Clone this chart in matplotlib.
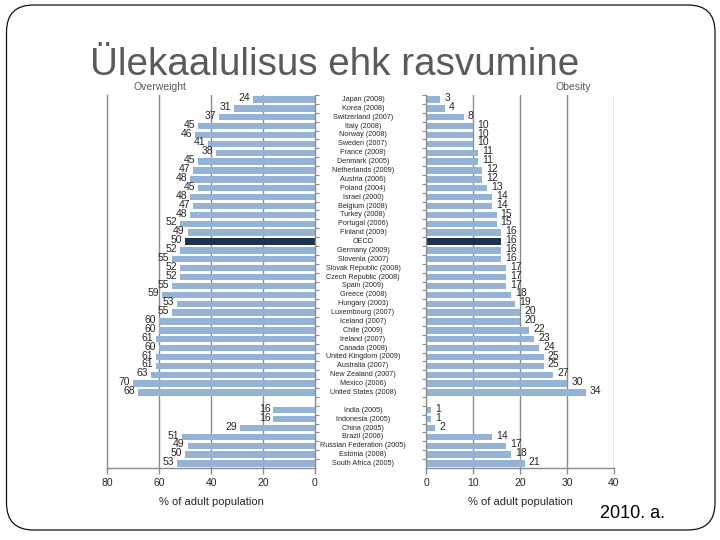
import matplotlib
matplotlib.use("Agg")
import matplotlib.pyplot as plt
from matplotlib.patches import FancyBboxPatch
from matplotlib.transforms import blended_transform_factory

plt.rcParams['font.family'] = ['Liberation Sans', 'DejaVu Sans']

countries = ["Japan (2008)", "Korea (2008)", "Switzerland (2007)", "Italy (2008)", "Norway (2008)",
             "Sweden (2007)", "France (2008)", "Denmark (2005)", "Netherlands (2009)", "Austria (2006)",
             "Poland (2004)", "Israel (2000)", "Belgium (2008)", "Turkey (2008)", "Portugal (2006)",
             "Finland (2009)", "OECD", "Germany (2009)", "Slovenia (2007)", "Slovak Republic (2008)",
             "Czech Republic (2008)", "Spain (2009)", "Greece (2008)", "Hungary (2003)",
             "Luxembourg (2007)", "Iceland (2007)", "Chile (2009)", "Ireland (2007)", "Canada (2008)",
             "United Kingdom (2009)", "Australia (2007)", "New Zealand (2007)", "Mexico (2006)",
             "United States (2008)"]
overweight = [24, 31, 37, 45, 46, 41, 38, 45, 47, 48, 45, 48, 47, 48, 52, 49, 50, 52, 55, 52,
              52, 55, 59, 53, 55, 60, 60, 61, 60, 61, 61, 63, 70, 68]
obesity = [3, 4, 8, 10, 10, 10, 11, 11, 12, 12, 13, 14, 14, 15, 15, 16, 16, 16, 16, 17,
           17, 17, 18, 19, 20, 20, 22, 23, 24, 25, 25, 27, 30, 34]

other_countries = ["India (2005)", "Indonesia (2005)", "China (2005)", "Brazil (2006)",
                   "Russian Federation (2005)", "Estonia (2008)", "South Africa (2005)"]
other_overweight = [16, 16, 29, 51, 49, 50, 53]
other_obesity = [1, 1, 2, 14, 17, 18, 21]

left_ticks = [80, 60, 40, 20, 0]
right_ticks = [0, 10, 20, 30, 40]

names = countries + [""] + other_countries
ow = overweight + [None] + other_overweight
ob = obesity + [None] + other_obesity
pos = list(range(len(names)))

light = "#95b3d7"
dark = "#1c3250"
grid_c = "#8c8c8c"
txt_c = "#262626"

fig = plt.figure(figsize=(7.2, 5.4), dpi=100)

# slide border (inches)
border = FancyBboxPatch((0.065, 0.10), 7.085, 5.25,
                        boxstyle="round,pad=0,rounding_size=0.27",
                        transform=fig.dpi_scale_trans, fill=False, ec="#111111", lw=0.9)
fig.patches.append(border)

fig.text(90 / 720, 1 - 75 / 540, "Ülekaalulisus ehk rasvumine", fontsize=27.8,
         color="#5a5a5a", ha="left", va="baseline")

axL = fig.add_axes([107 / 720, 1 - 468 / 540, 208 / 720, 373 / 540])
axR = fig.add_axes([426 / 720, 1 - 468 / 540, 188 / 720, 373 / 540])

for ax in (axL, axR):
    ax.set_facecolor("none")
    ax.set_ylim(len(names) - 0.5, -0.5)
    ax.spines["top"].set_visible(False)
    for s in ax.spines.values():
        s.set_color(grid_c)
        s.set_linewidth(1.0)
    ax.tick_params(axis="x", colors=grid_c, labelcolor=txt_c, labelsize=7.5, length=4, width=1)
    ax.set_yticks([p + 0.5 for p in pos[:-1]] + [-0.5])
    ax.set_yticklabels([])
    ax.tick_params(axis="y", colors=grid_c, length=3, width=0.8)

# left (overweight)
axL.set_xlim(80, 0)
axL.set_xticks(left_ticks)
axL.yaxis.tick_right()
for t in [60, 40, 20]:
    axL.axvline(t, color=grid_c, lw=1.0, zorder=0)
# right (obesity)
axR.set_xlim(0, 40)
axR.set_xticks(right_ticks)
axR.spines["right"].set_visible(False)
for t in [10, 20, 30, 40]:
    axR.axvline(t, color=grid_c, lw=1.0, zorder=0)

for p, n, a, b in zip(pos, names, ow, ob):
    if a is None:
        continue
    col = dark if n == "OECD" else light
    axL.barh(p, a, height=0.72, color=col, zorder=2)
    axR.barh(p, b, height=0.72, color=col, zorder=2)
    axL.annotate(str(a), (a, p), xytext=(-2, 1), textcoords="offset points",
                 ha="right", va="center", fontsize=7.5, color=txt_c, zorder=3)
    axR.annotate(str(b), (b, p), xytext=(3, 1), textcoords="offset points",
                 ha="left", va="center", fontsize=7.5, color=txt_c, zorder=3)

tr = blended_transform_factory(fig.transFigure, axL.transData)
for p, n in zip(pos, names):
    if n:
        axL.text(363 / 720, p, n, transform=tr, ha="center", va="center",
                 fontsize=5.2, color=txt_c, clip_on=False)

axL.set_xlabel("% of adult population", fontsize=8, color=txt_c, labelpad=6)
axR.set_xlabel("% of adult population", fontsize=8, color=txt_c, labelpad=6)

fig.text(133 / 720, 1 - 87 / 540, "Overweight", fontsize=7.5, color="#595959", ha="left", va="center")
fig.text(555 / 720, 1 - 87 / 540, "Obesity", fontsize=7.5, color="#595959", ha="left", va="center")
fig.text(600 / 720, 1 - 513 / 540, "2010. a.", fontsize=13, color="black", ha="left", va="center")

fig.savefig("out.png", dpi=100)
